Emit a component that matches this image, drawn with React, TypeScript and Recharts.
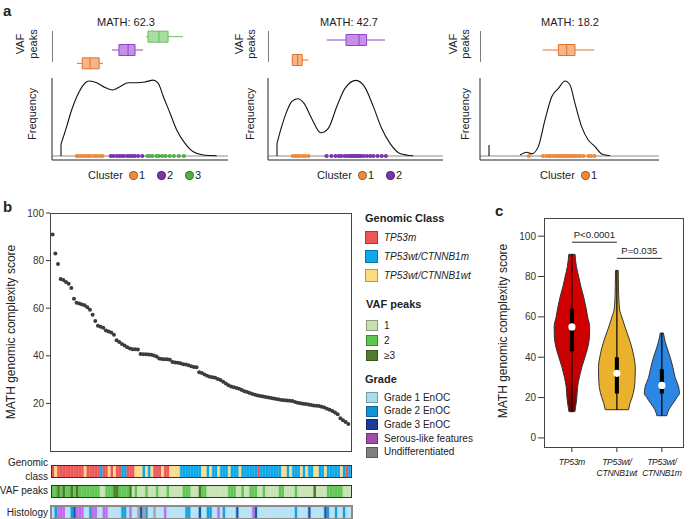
import React from "react";
import {
  ComposedChart,
  ScatterChart,
  BarChart,
  Bar,
  Cell,
  Line,
  Area,
  Scatter,
  XAxis,
  YAxis,
  ReferenceLine,
  ReferenceArea,
  ReferenceDot,
} from "recharts";

const FONT = '"Liberation Sans", Arial, Helvetica, sans-serif';
const INK = "#222";

// ---------- panel a: VAF clusters of three example tumours ----------
const mathTitles = ["MATH: 62.3", "MATH: 42.7", "MATH: 18.2"];

// density curves [VAF, density]
const density62 = [
  [0, 0.5], [0.034, 1.25], [0.064, 1.96], [0.095, 2.52], [0.134, 3.02], [0.171, 3.19],
  [0.215, 3.12], [0.265, 2.92], [0.31, 2.81], [0.355, 2.95], [0.405, 3.12], [0.456, 3.12],
  [0.506, 3.15], [0.556, 3.23], [0.586, 3.09], [0.617, 2.52], [0.657, 1.82], [0.697, 1.11],
  [0.747, 0.54], [0.797, 0.18], [0.857, 0.04], [0.938, 0.01],
];
const density42 = [
  [0, 0.54], [0.028, 1.25], [0.059, 1.89], [0.089, 2.31], [0.125, 2.44], [0.164, 2.24],
  [0.21, 1.6], [0.265, 0.99], [0.311, 1.18], [0.362, 2.1], [0.412, 2.88], [0.479, 3.22],
  [0.533, 2.92], [0.584, 2.1], [0.634, 1.18], [0.685, 0.54], [0.745, 0.11], [0.826, 0.01],
];
const density18 = [
  [0.187, 0.04], [0.227, 0.16], [0.257, 0.09], [0.297, 0.4], [0.337, 1.53], [0.378, 2.52],
  [0.418, 2.88], [0.458, 3.19], [0.488, 3.02], [0.518, 2.24], [0.558, 1.25], [0.598, 0.68],
  [0.639, 0.4], [0.679, 0.09], [0.729, 0.01],
];
const startHeights = [0.5, 0.54, 0.47];

// mutations (VAF) per cluster
const dots62 = [
  [0.095, 0.105, 0.12, 0.135, 0.15, 0.165, 0.18, 0.2, 0.215, 0.235, 0.25],
  [0.3, 0.315, 0.335, 0.35, 0.365, 0.38, 0.4, 0.415, 0.43, 0.445, 0.465, 0.49],
  [0.52, 0.535, 0.55, 0.575, 0.59, 0.61, 0.63, 0.655, 0.68, 0.71, 0.74],
];
const dots42 = [
  [0.095, 0.11, 0.12, 0.135, 0.155, 0.17, 0.19],
  [0.3, 0.33, 0.355, 0.375, 0.39, 0.41, 0.425, 0.44, 0.45, 0.46, 0.47, 0.48, 0.49, 0.5,
    0.51, 0.525, 0.545, 0.565, 0.585, 0.61, 0.635, 0.66],
];
const dots18 = [
  [0.24, 0.325, 0.345, 0.36, 0.37, 0.385, 0.4, 0.41, 0.42, 0.43, 0.44, 0.45, 0.46, 0.47,
    0.48, 0.49, 0.5, 0.51, 0.52, 0.535, 0.55, 0.57, 0.6, 0.615, 0.635],
];

// boxplots of VAF per cluster
const boxes62 = [
  { lo: 0.096, q1: 0.128, med: 0.175, q3: 0.23, hi: 0.253 },
  { lo: 0.307, q1: 0.349, med: 0.404, q3: 0.446, hi: 0.494 },
  { lo: 0.512, q1: 0.524, med: 0.59, q3: 0.645, hi: 0.735 },
];
const boxes42 = [
  { lo: 0.089, q1: 0.093, med: 0.125, q3: 0.153, hi: 0.19 },
  { lo: 0.301, q1: 0.418, med: 0.497, q3: 0.543, hi: 0.655 },
];
const boxes18 = [{ lo: 0.323, q1: 0.418, med: 0.468, q3: 0.518, hi: 0.634 }];

const clusterFill = ["#f7b486", "#c690e6", "#a9dda3"];
const clusterEdge = ["#e2722c", "#9144c9", "#68bd5c"];
const clusterDot = ["#f08a3a", "#7a34ad", "#4fb04b"];

const densitySets = [density62, density42, density18];
const dotSets = [dots62, dots42, dots18];
const boxSets = [boxes62, boxes42, boxes18];

const subLayout = [
  { axisX: 52, tick0: 61, ppu: 166, right: 228, vaf: 20, peaks: 33, freq: 32, title: 126, legend: 88 },
  { axisX: 268, tick0: 277, ppu: 165, right: 443, vaf: 239, peaks: 251, freq: 250, title: 349, legend: 317 },
  { axisX: 480, tick0: 489, ppu: 166, right: 659, vaf: 453, peaks: 465, freq: 465, title: 570, legend: 540 },
];

// ---------- panel b ----------
const mathScores = [
  91, 83, 78.6, 72.3, 71.8, 71, 70.3, 68.5, 64, 62.3,
  62, 61.6, 61.2, 60.4, 59.3, 57.3, 54.6, 52.6, 52.2, 51.8,
  50.6, 50.2, 49.8, 48.8, 46.5, 45.8, 45, 44.3, 43.6, 43.1,
  42.8, 42.7, 42.6, 40.8, 40.7, 40.6, 40.5, 40.4, 40.1, 39.7,
  38.9, 38.7, 38.6, 38.5, 38.3, 37.4, 37.2, 37.1, 36.9, 36.5,
  36.3, 36, 35.6, 35.3, 35.2, 33.1, 32.8, 32.1, 31.6, 31.2,
  31, 30.8, 30.3, 29.8, 29.1, 28.4, 27.6, 27.1, 26.8, 26.5,
  26.2, 25.6, 25.1, 24.8, 24.4, 23.9, 23.6, 23.3, 23.1, 22.9,
  22.7, 22.5, 22.3, 22.1, 21.8, 21.6, 21.4, 21.3, 21.2, 21.1,
  21, 20.6, 20.3, 20.1, 19.9, 19.7, 19.5, 19.3, 19.1, 19,
  18.9, 18.6, 18.3, 17.8, 17.3, 16.8, 16.2, 15.4, 13.8, 12.9, 12.2, 11.3,
];
const scoreTicks = [0, 20, 40, 60, 80, 100];

// annotation strips, run-length encoded [code, count]
const genomicRuns: [string, number][] = [
  ["R", 1], ["Y", 1], ["R", 10], ["Y", 1], ["R", 5], ["B", 1], ["R", 2], ["Y", 1], ["R", 1], ["Y", 1],
  ["R", 2], ["B", 2], ["R", 3], ["Y", 3], ["B", 1], ["Y", 1], ["B", 1], ["Y", 1], ["R", 3], ["Y", 1],
  ["R", 2], ["Y", 4], ["B", 8], ["Y", 2], ["B", 1], ["Y", 1], ["B", 2], ["Y", 1], ["B", 3], ["Y", 1],
  ["B", 3], ["Y", 1], ["B", 6], ["R", 1], ["B", 8], ["Y", 2], ["B", 1], ["Y", 1], ["B", 3], ["Y", 1],
  ["B", 1], ["Y", 1], ["B", 2], ["Y", 2], ["B", 2], ["Y", 1], ["B", 5], ["Y", 1], ["B", 1], ["R", 1], ["B", 1],
];
const vafRuns: [string, number][] = [
  ["M", 2], ["D", 1], ["M", 1], ["D", 1], ["M", 2], ["D", 1], ["M", 1], ["D", 1], ["M", 8], ["L", 2],
  ["M", 3], ["D", 2], ["M", 4], ["D", 1], ["L", 1], ["M", 1], ["L", 3], ["M", 1], ["L", 3], ["M", 1],
  ["L", 3], ["M", 1], ["L", 5], ["M", 3], ["L", 3], ["D", 1], ["M", 2], ["L", 8], ["M", 3], ["L", 2],
  ["M", 1], ["L", 2], ["M", 3], ["L", 2], ["M", 1], ["L", 5], ["M", 2], ["L", 4], ["M", 1], ["L", 6],
  ["D", 1], ["L", 4], ["M", 6], ["L", 3],
];
const histologyRuns: [string, number][] = [
  ["1", 1], ["2", 1], ["S", 3], ["1", 2], ["2", 1], ["3", 1], ["S", 3], ["1", 2], ["2", 1], ["S", 2],
  ["1", 2], ["S", 2], ["1", 5], ["2", 2], ["1", 1], ["S", 1], ["1", 2], ["U", 1], ["3", 1], ["U", 1],
  ["2", 1], ["1", 2], ["U", 1], ["1", 3], ["S", 1], ["1", 7], ["2", 2], ["1", 3], ["3", 1], ["1", 2],
  ["2", 2], ["1", 2], ["S", 1], ["1", 1], ["2", 1], ["1", 4], ["3", 1], ["1", 5], ["S", 1], ["3", 1],
  ["1", 14], ["2", 1], ["1", 4], ["3", 1], ["1", 5], ["3", 1], ["2", 1], ["1", 2], ["2", 1], ["1", 2],
  ["2", 1], ["1", 2],
];
const genomicColors: Record<string, string> = { R: "#ec5757", B: "#0aa8ea", Y: "#fbdb8b" };
const vafColors: Record<string, string> = { L: "#c8e2b3", M: "#5fc652", D: "#4b7b2c" };
const histColors: Record<string, string> = { "1": "#b3e2f6", "2": "#139fe0", "3": "#1858aa", S: "#c268f0", U: "#a3a3a3" };

const genomicLegend = [
  { label: "TP53m", color: "#f05454" },
  { label: "TP53wt/CTNNB1m", color: "#0aaaeb" },
  { label: "TP53wt/CTNNB1wt", color: "#fdda7e" },
];
const vafLegend = [
  { label: "1", color: "#c6e0b4" },
  { label: "2", color: "#5cc64e" },
  { label: "≥3", color: "#4e7d2f" },
];
const gradeLegend = [
  { label: "Grade 1 EnOC", color: "#a8dcef" },
  { label: "Grade 2 EnOC", color: "#0c94d4" },
  { label: "Grade 3 EnOC", color: "#1a3c9e" },
  { label: "Serous-like features", color: "#a24cae" },
  { label: "Undifferentiated", color: "#808080" },
];

// ---------- panel c: violins ----------
const violinLabels = [["TP53m"], ["TP53wt/", "CTNNB1wt"], ["TP53wt/", "CTNNB1m"]];
// [score, half width in group units]
const violinRed = [
  [13, 0.065], [15, 0.08], [20, 0.11], [25, 0.125], [30, 0.165], [35, 0.22], [40, 0.29], [45, 0.355],
  [50, 0.39], [55, 0.395], [60, 0.35], [65, 0.31], [70, 0.26], [75, 0.2], [80, 0.15], [85, 0.1], [91, 0.07],
];
const violinOrange = [
  [14, 0.26], [17, 0.29], [20, 0.335], [25, 0.39], [30, 0.405], [35, 0.41], [40, 0.38], [45, 0.33],
  [50, 0.26], [55, 0.18], [60, 0.11], [63, 0.065], [68, 0.045], [75, 0.035], [83, 0.03],
];
const violinBlue = [
  [11, 0.11], [14, 0.155], [17, 0.245], [20, 0.335], [22, 0.39], [25, 0.375], [30, 0.295],
  [35, 0.245], [40, 0.185], [45, 0.11], [48, 0.07], [52, 0.035],
];
const violinMin = [13, 14, 11];
const violinMax = [91, 83, 52];
const violinQ1 = [43, 22, 22];
const violinQ3 = [64, 40, 34];
const violinMedian = [55, 32, 26];
const violinFills = ["url(#redViolin)", "#eab12c", "#2b87e3"];
const pBrackets = [
  { from: 1, to: 2, y: 97, text: "P<0.0001" },
  { from: 2, to: 3, y: 89, text: "P=0.035" },
];

const expand = (runs: [string, number][]) =>
  runs.flatMap(([c, n]) => Array.from({ length: n }, () => c));

const violinShapes = [violinRed, violinOrange, violinBlue];

// ---------- helpers ----------
type TxtProps = {
  x: number; y: number; children: React.ReactNode; size?: number; bold?: boolean;
  italic?: boolean; anchor?: "start" | "middle" | "end"; rot?: number; color?: string;
};
const Txt = ({ x, y, children, size = 11, bold, italic, anchor = "middle", rot, color = INK }: TxtProps) => {
  const tx = anchor === "middle" ? "-50%" : anchor === "end" ? "-100%" : "0";
  return (
    <div
      style={{
        position: "absolute", left: x, top: y, fontSize: size, lineHeight: 1,
        fontWeight: bold ? 700 : 400, fontStyle: italic ? "italic" : "normal", color,
        whiteSpace: "nowrap", transform: `translate(${tx}, -50%)${rot ? ` rotate(${rot}deg)` : ""}`,
      }}
    >
      {children}
    </div>
  );
};

const VafSubpanel = ({ idx }: { idx: number }) => {
  const L = subLayout[idx];
  const boxes = boxSets[idx];
  const k = boxes.length;
  const vMin = (L.axisX - L.tick0) / L.ppu;
  const vMax = (L.right - L.tick0) / L.ppu;
  const half = (5.5 * k) / 40;
  const pxToCluster = (py: number) => 0.5 + ((70 - py) * k) / 40;
  const dens = densitySets[idx].map(([v, d]) => ({ v, d }));
  return (
    <>
      <Txt x={L.title} y={22}>{mathTitles[idx]}</Txt>
      <Txt x={L.vaf} y={44} rot={-90}>VAF</Txt>
      <Txt x={L.peaks} y={44} rot={-90}>peaks</Txt>
      <Txt x={L.freq} y={114} rot={-90}>Frequency</Txt>
      <div style={{ position: "absolute", left: L.axisX, top: 30 }}>
        <ComposedChart width={L.right - L.axisX} height={40} data={dens} margin={{ top: 0, right: 0, bottom: 0, left: 0 }}>
          <XAxis type="number" dataKey="v" domain={[vMin, vMax]} hide allowDataOverflow />
          <YAxis type="number" domain={[0.5, k + 0.5]} hide allowDataOverflow />
          <ReferenceLine
            segment={[{ x: vMin, y: pxToCluster(31) }, { x: vMin, y: pxToCluster(62) }]}
            stroke="#333" strokeWidth={1.3} ifOverflow="visible"
          />
          {boxes.map((b, i) => {
            const c = i + 1;
            const edge = clusterEdge[i];
            return (
              <React.Fragment key={i}>
                <ReferenceLine segment={[{ x: b.lo, y: c }, { x: b.q1, y: c }]} stroke={edge} ifOverflow="visible" />
                <ReferenceLine segment={[{ x: b.q3, y: c }, { x: b.hi, y: c }]} stroke={edge} ifOverflow="visible" />
                <ReferenceArea
                  x1={b.q1} x2={b.q3} y1={c - half} y2={c + half}
                  fill={clusterFill[i]} fillOpacity={1} stroke={edge} strokeWidth={1} ifOverflow="visible"
                />
                <ReferenceLine segment={[{ x: b.med, y: c - half }, { x: b.med, y: c + half }]} stroke={edge} ifOverflow="visible" />
              </React.Fragment>
            );
          })}
        </ComposedChart>
      </div>
      <div style={{ position: "absolute", left: L.axisX - 20, top: 70 }}>
        <ComposedChart width={L.right - L.axisX + 22} height={110} data={dens} margin={{ top: 8, right: 2, bottom: 0, left: 0 }}>
          <XAxis
            type="number" dataKey="v" domain={[vMin, vMax]} ticks={[0, 0.25, 0.5, 0.75, 1]}
            tick={false} tickSize={5} height={20} allowDataOverflow stroke="#222"
          />
          <YAxis
            type="number" domain={[-0.17, 3.32]} ticks={[0, 1, 2, 3]} tick={false}
            tickSize={5} width={20} allowDataOverflow stroke="#222"
          />
          <ReferenceLine y={0} stroke="#8c8c8c" strokeWidth={1.2} />
          <ReferenceLine segment={[{ x: 0, y: 0 }, { x: 0, y: startHeights[idx] }]} stroke="#111" strokeWidth={1.1} />
          <Line dataKey="d" type="monotone" dot={false} stroke="#111" strokeWidth={1.1} isAnimationActive={false} />
          {dotSets[idx].map((arr, ci) => (
            <Scatter
              key={ci}
              data={arr.map((v) => ({ v, d: 0 }))}
              dataKey="d"
              isAnimationActive={false}
              shape={(p: any) => <circle cx={p.cx} cy={p.cy} r={2.1} fill={clusterDot[ci]} />}
            />
          ))}
        </ComposedChart>
      </div>
      <Txt x={L.legend} y={175} anchor="start">Cluster</Txt>
      {boxes.map((_, i) => (
        <React.Fragment key={i}>
          <div
            style={{
              position: "absolute", left: L.legend + 45 + i * 28 - 4.5, top: 175 - 4.5, width: 9, height: 9,
              borderRadius: "50%", background: clusterDot[i], boxSizing: "border-box",
              border: "1px solid rgba(0,0,0,0.35)",
            }}
          />
          <Txt x={L.legend + 51 + i * 28} y={175} anchor="start">{String(i + 1)}</Txt>
        </React.Fragment>
      ))}
    </>
  );
};

const Strip = ({ runs, colors, top, border, left }: { runs: [string, number][]; colors: Record<string, string>; top: number; border: string; left: number }) => {
  const data = expand(runs).map((c, i) => ({ i, c, v: 1 }));
  const w = 299;
  return (
    <div style={{ position: "absolute", left, top, width: w, height: 11, border, lineHeight: 0 }}>
      <BarChart width={w} height={11} data={data} margin={{ top: 0, right: 0, bottom: 0, left: 0 }} barCategoryGap={0} barGap={0}>
        <XAxis dataKey="i" hide />
        <YAxis hide domain={[0, 1]} />
        <Bar dataKey="v" barSize={w / data.length} isAnimationActive={false}>
          {data.map((d) => (
            <Cell key={d.i} fill={colors[d.c]} stroke={colors[d.c]} strokeWidth={0.4} />
          ))}
        </Bar>
      </BarChart>
    </div>
  );
};

const ViolinTick = (props: any) => {
  const { x, y, payload } = props;
  const lines = violinLabels[Math.round(payload.value) - 1] || [];
  return (
    <text x={x} y={y} textAnchor="middle" fontSize={8.6} fontStyle="italic" fill={INK} fontFamily={FONT} letterSpacing={-0.3}>
      {lines.map((l, i) => (
        <tspan key={i} x={x} dy={i === 0 ? 10.5 : 11.5}>{l}</tspan>
      ))}
    </text>
  );
};

// one layer of panel c; all layers share the same axes so they line up exactly
const ViolinLayer = ({ data, showAxes, children }: { data: any[]; showAxes: boolean; children: React.ReactNode }) => (
  <div style={{ position: "absolute", left: 490, top: 210 }}>
    <ComposedChart
      layout="vertical" width={195} height={277} data={data}
      margin={{ top: 8, right: 2, bottom: 0, left: 0 }}
    >
      <defs>
        <linearGradient id="redViolin" x1="0" y1="0" x2="0" y2="1">
          <stop offset="0" stopColor="#d80000" />
          <stop offset="0.78" stopColor="#c80000" />
          <stop offset="1" stopColor="#700000" />
        </linearGradient>
      </defs>
      <XAxis
        type="number" domain={[0.38, 3.47]} ticks={[1, 2, 3]} allowDataOverflow
        axisLine={false} tickSize={5} height={40} stroke="#333"
        tickLine={showAxes} tick={showAxes ? <ViolinTick /> : false}
      />
      <YAxis
        type="number" dataKey="score" domain={[-4.5, 109]} ticks={scoreTicks} reversed
        allowDataOverflow axisLine={false} width={54} tickSize={6} tickMargin={2} stroke="#333"
        tickLine={showAxes}
        tick={showAxes ? { fontSize: 10, fill: "#333", fontFamily: FONT } : false}
      />
      {children}
    </ComposedChart>
  </div>
);

const Swatch = ({ x, y, w, h, color }: { x: number; y: number; w: number; h: number; color: string }) => (
  <div
    style={{
      position: "absolute", left: x, top: y, width: w, height: h, background: color,
      boxSizing: "border-box", border: "1px solid rgba(0,0,0,0.3)",
    }}
  />
);

export default function App() {
  const scatterData = mathScores.map((score, rank) => ({ rank, score }));
  return (
    <div
      style={{
        position: "absolute", left: 0, top: 0, width: 690, height: 519, background: "#fff",
        fontFamily: FONT, color: INK, overflow: "hidden",
      }}
    >
      {/* panel letters */}
      <Txt x={3} y={10} size={15} bold anchor="start">a</Txt>
      <Txt x={3} y={206} size={15} bold anchor="start">b</Txt>
      <Txt x={495} y={210} size={15} bold anchor="start">c</Txt>

      {/* panel a */}
      {[0, 1, 2].map((i) => (
        <VafSubpanel key={i} idx={i} />
      ))}

      {/* panel b */}
      <Txt x={11} y={332} size={12} rot={-90}>MATH genomic complexity score</Txt>
      <div style={{ position: "absolute", left: 0, top: 205 }}>
        <ScatterChart width={355} height={246} margin={{ top: 8, right: 4, bottom: 0, left: 0 }}>
          <XAxis type="number" dataKey="rank" domain={[-1, 112]} hide />
          <YAxis
            type="number" dataKey="score" domain={[0, 100]} ticks={scoreTicks} width={50}
            axisLine={false} tickSize={4} tickMargin={2} stroke="#333"
            tick={{ fontSize: 10, fill: "#333", fontFamily: FONT }}
          />
          <Scatter
            data={scatterData}
            isAnimationActive={false}
            shape={(p: any) => <circle cx={p.cx} cy={p.cy} r={2} fill="#3c3c3c" />}
          />
        </ScatterChart>
      </div>
      <div style={{ position: "absolute", left: 50, top: 213, width: 302, height: 239, border: "1px solid #444", boxSizing: "border-box" }} />

      <Txt x={48} y={463} size={10} anchor="end">Genomic</Txt>
      <Txt x={48} y={477} size={10} anchor="end">class</Txt>
      <Txt x={48} y={491} size={10} anchor="end">VAF peaks</Txt>
      <Txt x={48} y={513} size={10} anchor="end">Histology</Txt>
      <Strip runs={genomicRuns} colors={genomicColors} top={465} left={51} border="1px solid #333" />
      <Strip runs={vafRuns} colors={vafColors} top={485} left={51} border="1px solid #333" />
      <Strip runs={histologyRuns} colors={histColors} top={505} left={50} border="2px solid #8c8c8c" />

      {/* legend */}
      <Txt x={365} y={218} size={11} bold anchor="start">Genomic Class</Txt>
      {genomicLegend.map((g, i) => (
        <React.Fragment key={g.label}>
          <Swatch x={365} y={231 + i * 19} w={13} h={13} color={g.color} />
          <Txt x={384} y={238 + i * 19} size={10} italic anchor="start">{g.label}</Txt>
        </React.Fragment>
      ))}
      <Txt x={366} y={304} size={11} bold anchor="start">VAF peaks</Txt>
      {vafLegend.map((g, i) => (
        <React.Fragment key={g.label}>
          <Swatch x={366} y={320 + i * 15} w={12} h={11} color={g.color} />
          <Txt x={384} y={326 + i * 15} size={10} anchor="start">{g.label}</Txt>
        </React.Fragment>
      ))}
      <Txt x={365} y={379} size={11} bold anchor="start">Grade</Txt>
      {gradeLegend.map((g, i) => (
        <React.Fragment key={g.label}>
          <Swatch x={366} y={392 + i * 13.7} w={12} h={11} color={g.color} />
          <Txt x={384} y={397.5 + i * 13.7} size={10} anchor="start">{g.label}</Txt>
        </React.Fragment>
      ))}

      {/* panel c */}
      <Txt x={503} y={331} size={12} rot={-90}>MATH  genomic complexity score</Txt>
      {violinShapes.map((shape, gi) => (
        <ViolinLayer
          key={gi}
          showAxes={gi === 0}
          data={shape.map(([score, hw]) => ({ score, band: [gi + 1 - hw, gi + 1 + hw] }))}
        >
          <Area
            dataKey="band" type="monotone"
            fill={violinFills[gi]} fillOpacity={1} stroke="#333" strokeWidth={1}
            isAnimationActive={false} dot={false} activeDot={false}
          />
        </ViolinLayer>
      ))}
      <ViolinLayer data={[]} showAxes={false}>
        {/* flat caps at both ends of each violin */}
        {violinShapes.flatMap((shape, gi) =>
          [shape[0], shape[shape.length - 1]].map(([score, hw], e) => (
            <ReferenceLine
              key={`cap${gi}-${e}`}
              segment={[{ x: gi + 1 - hw, y: score }, { x: gi + 1 + hw, y: score }]}
              stroke="#333" strokeWidth={1}
            />
          ))
        )}
        {violinShapes.map((_, gi) => (
          <ReferenceLine
            key={`w${gi}`}
            segment={[{ x: gi + 1, y: violinMin[gi] }, { x: gi + 1, y: violinMax[gi] }]}
            stroke="#000" strokeWidth={1.2}
          />
        ))}
        {violinShapes.map((_, gi) => (
          <ReferenceArea
            key={`b${gi}`} x1={gi + 1 - 0.045} x2={gi + 1 + 0.045} y1={violinQ1[gi]} y2={violinQ3[gi]}
            fill="#000" fillOpacity={1} stroke="none"
          />
        ))}
        {violinShapes.map((_, gi) => (
          <ReferenceDot key={`m${gi}`} x={gi + 1} y={violinMedian[gi]} r={3.6} fill="#fff" stroke="none" />
        ))}
        {pBrackets.map((p) => (
          <ReferenceLine
            key={p.text}
            segment={[{ x: p.from, y: p.y }, { x: p.to, y: p.y }]}
            stroke="#222" strokeWidth={1}
            label={{ value: p.text, position: "top", fontSize: 9.6, fill: INK, fontFamily: FONT, offset: 4 }}
          />
        ))}
      </ViolinLayer>
      <div style={{ position: "absolute", left: 544, top: 218, width: 140, height: 230, border: "1px solid #444", boxSizing: "border-box" }} />
    </div>
  );
}
